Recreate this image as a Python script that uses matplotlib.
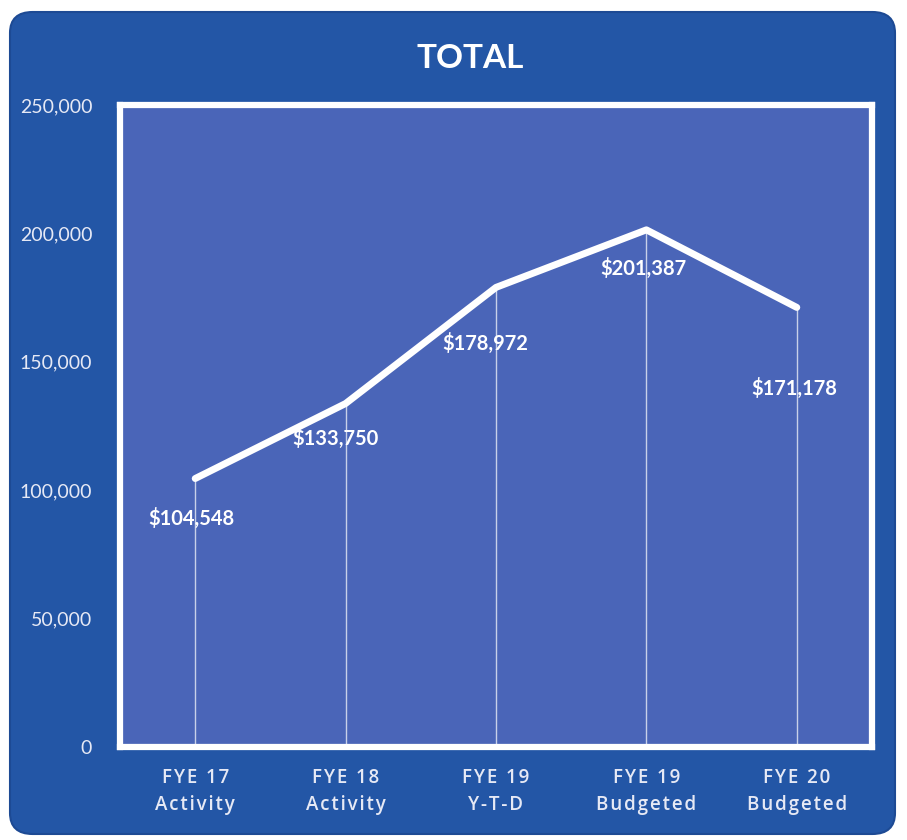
import matplotlib
matplotlib.use("Agg")
import matplotlib.pyplot as plt
from matplotlib.patches import FancyBboxPatch

categories = ["FYE 17\nActivity", "FYE 18\nActivity", "FYE 19\nY-T-D", "FYE 19\nBudgeted", "FYE 20\nBudgeted"]
values = [104548, 133750, 178972, 201387, 171178]
value_labels = ["$104,548", "$133,750", "$178,972", "$201,387", "$171,178"]
yticks = [0, 50000, 100000, 150000, 200000, 250000]
ytick_labels = ["0", "50,000", "100,000", "150,000", "200,000", "250,000"]
title = "TOTAL"

# label offsets (points) relative to each data point
label_dx = [-3, -7, -8, -2, -2]
label_dy = [-29, -25, -40, -28, -58]

plt.rcParams['font.family'] = ['Lato', 'DejaVu Sans']


def spaced(s, sep="\u200a"):
    return "\n".join(sep.join(line) for line in s.split("\n"))


fig = plt.figure(figsize=(9.07, 8.4), dpi=100)
fig.patch.set_facecolor("white")

outer = FancyBboxPatch((10/907, 6/840), 885/907, 822/840,
                       boxstyle="round,pad=0,rounding_size=0.025",
                       transform=fig.transFigure, facecolor="#2356a6",
                       edgecolor="#1d4a94", linewidth=1.5, zorder=-5)
fig.patches.append(outer)

ax = fig.add_axes([120/907, 93/840, 752/907, 642/840])
ax.set_zorder(2)
ax.set_facecolor("#4a65b8")
for s in ax.spines.values():
    s.set_color("white")
    s.set_linewidth(4.5)

x = list(range(len(values)))
ax.vlines(x, 0, values, colors="white", linewidth=1.0, alpha=0.7, zorder=2)
ax.plot(x, values, color="white", linewidth=5, solid_capstyle="round",
        solid_joinstyle="round", zorder=3)

for xi, v, lab, dx, dy in zip(x, values, value_labels, label_dx, label_dy):
    ax.annotate(lab, (xi, v), xytext=(dx, dy), textcoords="offset points",
                ha="center", va="center", color="white", fontsize=14.5,
                fontweight="bold", zorder=4)

ax.set_xlim(-0.5, len(values) - 0.5)
ax.set_ylim(0, 250000)
ax.set_yticks(yticks)
ax.set_yticklabels(ytick_labels)
ax.set_xticks(x)
ax.set_xticklabels([spaced(c) for c in categories], linespacing=1.45)
ax.tick_params(axis="both", length=0, colors="#e6e9f5", labelsize=14)
ax.tick_params(axis="y", pad=20)
ax.tick_params(axis="x", pad=15)
for t in ax.get_xticklabels():
    t.set_fontfamily(["Open Sans", "DejaVu Sans"])
    t.set_fontweight("semibold")
    t.set_fontsize(13.5)

fig.text(470/907, 1 - 58/840, title, ha="center", va="center", color="white",
         fontsize=24, fontweight="bold", zorder=3)

fig.savefig("out.png", dpi=100, facecolor=fig.get_facecolor())
